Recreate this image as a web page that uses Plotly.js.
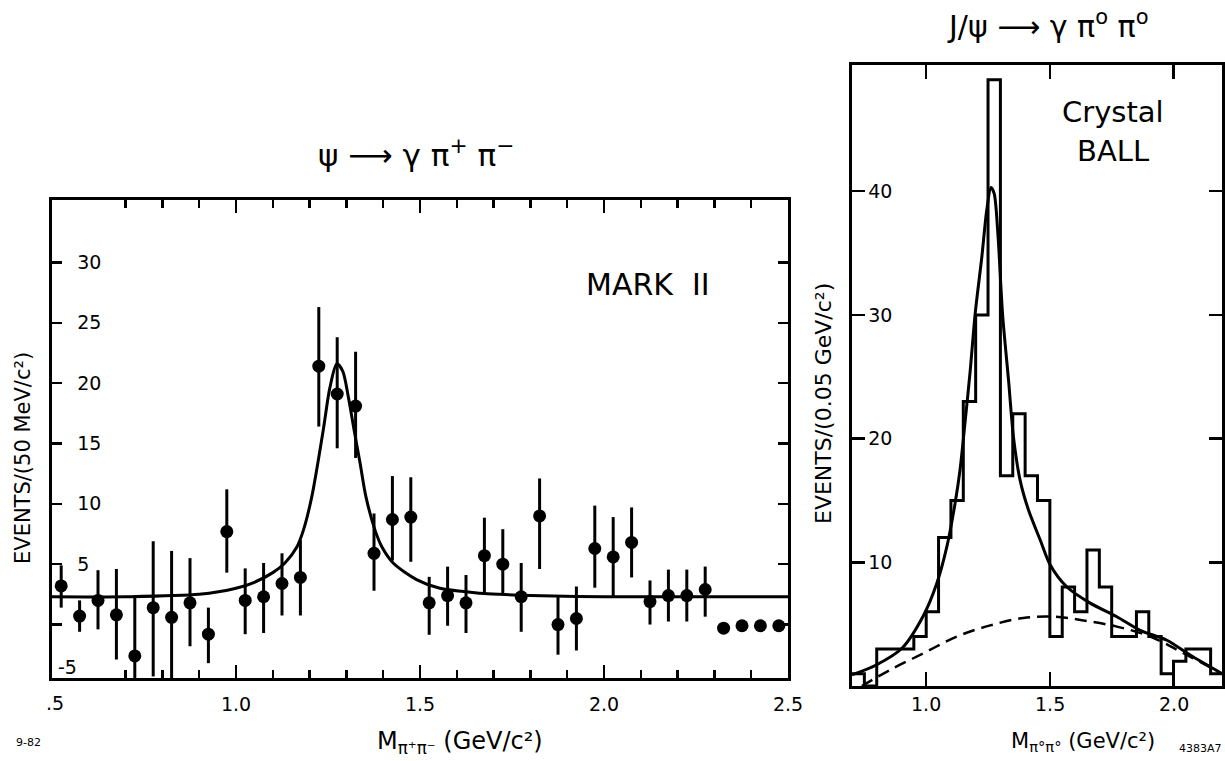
<!DOCTYPE html>
<html><head><meta charset="utf-8">
<script src="https://cdn.plot.ly/plotly-3.0.1.min.js"></script>
<style>html,body{margin:0;padding:0;background:#fff;}#chart{width:1225px;height:761px;}</style>
</head><body><div id="chart"></div>
<script>
// ---- Left panel: MARK II, psi -> gamma pi+ pi- ----
const markMass = [0.525,0.575,0.625,0.675,0.725,0.775,0.825,0.875,0.925,0.975,
                  1.025,1.075,1.125,1.175,1.225,1.275,1.325,1.375,1.425,1.475,
                  1.525,1.575,1.625,1.675,1.725,1.775,1.825,1.875,1.925,1.975,
                  2.025,2.075,2.125,2.175,2.225,2.275,2.325,2.375,2.425,2.475];
const markEvents = [3.2,0.7,2.0,0.8,-2.6,1.4,0.6,1.8,-0.8,7.7,
                    2.0,2.3,3.4,3.9,21.4,19.1,18.1,5.9,8.7,8.9,
                    1.8,2.4,1.8,5.7,5.0,2.3,9.0,0.0,0.5,6.3,
                    5.6,6.8,1.9,2.4,2.4,2.9,-0.3,-0.1,-0.1,-0.1];
const markErrUp = [1.7,1.3,2.5,3.8,4.8,5.5,5.5,3.7,2.2,3.5,
                   2.65,2.8,2.5,3.1,4.9,4.7,4.5,3.3,3.6,3.3,
                   2.15,2.4,2.3,3.15,2.9,2.8,3.1,2.3,2.65,3.55,
                   3.3,2.9,1.75,2.15,2.15,1.9,0,0,0,0];
const markErrDown = [1.8,1.3,2.4,3.7,4.8,5.7,5.5,3.6,2.4,3.4,
                     2.8,3.0,2.65,3.15,5.0,4.5,4.3,3.1,3.4,3.7,
                     2.65,2.5,2.5,3.1,2.4,2.9,4.4,2.5,2.65,3.25,
                     3.3,2.9,1.9,2.15,2.15,2.25,0,0,0,0];
const markFitMass = [0.5,0.7,0.9,1.0,1.05,1.1,1.133,1.165,1.183,1.206,1.237,1.255,1.274,1.29,
                     1.305,1.321,1.337,1.353,1.378,1.397,1.427,1.492,1.554,1.663,1.717,1.8,2.0,2.5];
const markFitEvents = [2.3,2.3,2.5,3.0,3.5,4.3,5.1,6.4,7.8,10.6,16.1,19.6,21.6,21.0,
                       18.9,16.1,13.4,10.6,7.8,6.4,5.1,3.7,3.0,2.6,2.5,2.4,2.3,2.3];
const markXTicks = [0.5,1.0,1.5,2.0,2.5];
const markXTickText = ['.5','1.0','1.5','2.0','2.5'];
const markYTicks = [0,5,10,15,20,25,30];
const markYTickText = ['','5','10','15','20','25','30'];
const markYBottomLabel = '-5';

// ---- Right panel: Crystal Ball, J/psi -> gamma pi0 pi0 ----
const cbBinLow = [0.70,0.75,0.80,0.85,0.90,0.95,1.00,1.05,1.10,1.15,
                  1.20,1.25,1.30,1.35,1.40,1.45,1.50,1.55,1.60,1.65,
                  1.70,1.75,1.80,1.85,1.90,1.95,2.00,2.05,2.10,2.15];
const cbCounts = [1,0,3,3,3,4,6,12,15,23,
                  30,49,17,22,17,15,4,8,6,11,
                  8,4,4,6,4,1,2,3,3,1];
const cbBinWidth = 0.05;
const cbFitMass = [0.70,0.798,0.902,0.989,1.043,1.084,1.117,1.137,1.158,1.178,1.198,1.225,1.245,
                   1.262,1.275,1.29,1.309,1.333,1.353,1.380,1.414,1.461,1.501,1.569,1.663,1.771,
                   1.865,1.973,2.067,2.196];
const cbFitEvents = [0.9,1.7,3.05,5.7,8.3,11.3,14.8,17.5,21.5,25.5,30.1,34.7,38.5,
                     40.3,39.8,36.5,30.0,24.7,20.1,16.6,14.2,11.8,9.8,8.0,6.7,5.6,
                     4.5,3.7,2.5,1.0];
const cbBkgMass = [0.74,0.854,0.989,1.124,1.259,1.393,1.514,1.636,1.771,1.906,2.040,2.196];
const cbBkgEvents = [0.0,1.3,2.65,4.0,4.9,5.5,5.6,5.3,4.8,4.0,2.65,1.0];
const cbXTicks = [1.0,1.5,2.0];
const cbXTickText = ['1.0','1.5','2.0'];
const cbYTicks = [10,20,30,40];

const FONT = 'DejaVu Sans, Arial, sans-serif';
const W = 1225, H = 761;
const px = v => v / W;
const py = v => 1 - v / H;

const stepX = cbBinLow.concat([cbBinLow[cbBinLow.length-1] + cbBinWidth]);
const stepY = cbCounts.concat([cbCounts[cbCounts.length-1]]);

const traces = [
  {x: markFitMass, y: markFitEvents, xaxis:'x', yaxis:'y', mode:'lines',
   line:{color:'#000', width:3, shape:'spline', smoothing:0.8}, hoverinfo:'skip'},
  {x: markMass, y: markEvents, xaxis:'x', yaxis:'y', mode:'markers',
   marker:{color:'#000', size:13},
   error_y:{type:'data', symmetric:false, array: markErrUp, arrayminus: markErrDown,
            color:'#000', thickness:3, width:0}},
  {x: stepX, y: stepY, xaxis:'x2', yaxis:'y2', mode:'lines',
   line:{color:'#000', width:3, shape:'hv'}},
  {x: cbFitMass, y: cbFitEvents, xaxis:'x2', yaxis:'y2', mode:'lines',
   line:{color:'#000', width:3, shape:'spline', smoothing:0.8}},
  {x: cbBkgMass, y: cbBkgEvents, xaxis:'x2', yaxis:'y2', mode:'lines',
   line:{color:'#000', width:2.5, dash:'12px,7px', shape:'spline'}}
];

const axisCommon = {showgrid:false, zeroline:false, showline:true, linecolor:'#000', linewidth:3,
                    mirror:'allticks', ticks:'inside', tickcolor:'#000', tickwidth:2.5,
                    tickfont:{family:FONT, size:19, color:'#000'}, fixedrange:true};

// x tick text of the left panel: the first label is drawn as an annotation (corner label)
const markXTickShown = markXTickText.map((t, i) => i === 0 ? '' : t);

function ann(text, x, y, size, extra) {
  return Object.assign({text:text, x:x, y:y, xref:'paper', yref:'paper', showarrow:false,
    xanchor:'center', yanchor:'middle', font:{family:FONT, size:size, color:'#000'}}, extra || {});
}

// right-panel x tick labels placed on the x2 scale
const cbXLabelAnns = cbXTicks.map((v, i) => ann(cbXTickText[i], v, py(704), 19, {xref:'x2'}));

const layout = {
  width: W, height: H, showlegend:false,
  paper_bgcolor:'#fff', plot_bgcolor:'#fff',
  margin:{l:0, r:0, t:0, b:0},
  xaxis: Object.assign({}, axisCommon, {
    domain:[px(52), px(788)], range:[0.5, 2.5], anchor:'y',
    tickmode:'array', tickvals: markXTicks, ticktext: markXTickShown, ticklen:13,
    ticklabelstandoff: 7,
    minor:{dtick:0.1, tick0:0.5, ticks:'inside', ticklen:8, tickwidth:2.5, tickcolor:'#000'}
  }),
  yaxis: Object.assign({}, axisCommon, {
    domain:[py(678), py(200)], range:[-4.43, 35.17], anchor:'x',
    tickmode:'array', tickvals: markYTicks, ticktext: markYTickText, ticklen:10,
    ticklabelposition:'inside', ticklabelstandoff: 16
  }),
  xaxis2: Object.assign({}, axisCommon, {
    domain:[px(852), px(1222)], range:[0.70, 2.196], anchor:'y2',
    tickmode:'array', tickvals: cbXTicks, ticktext: cbXTicks.map(() => ''), ticklen:14
  }),
  yaxis2: Object.assign({}, axisCommon, {
    domain:[py(686), py(65)], range:[0, 50.2], anchor:'x2',
    tickmode:'array', tickvals: cbYTicks, ticklen:13,
    ticklabelposition:'inside', ticklabelstandoff: 4
  }),
  annotations: [
    ann('ψ ⟶ γ π<sup>+</sup> π<sup>−</sup>', px(416), py(153), 31),
    ann('J/ψ ⟶ γ π<sup>o</sup> π<sup>o</sup>', px(1048), py(24), 30),
    ann('MARK  II', px(648), py(285), 30),
    ann('Crystal', px(1113), py(112), 29),
    ann('BALL', px(1113), py(151), 29),
    ann('M<sub>π⁺π⁻</sub> (GeV/c²)', px(460), py(742), 24),
    ann('M<sub>π°π°</sub> (GeV/c²)', px(1083), py(742), 21),
    ann('EVENTS/(50 MeV/c²)', px(23), py(458), 21, {textangle:-90}),
    ann('EVENTS/(0.05 GeV/c²)', px(823), py(403), 22, {textangle:-90}),
    ann(markYBottomLabel, px(67), py(667), 19),
    ann(markXTickText[0], px(55), py(703), 19),
    ann('9-82', px(28), py(742), 11),
    ann('4383A7', px(1200), py(748), 11)
  ].concat(cbXLabelAnns)
};

Plotly.newPlot('chart', traces, layout, {staticPlot:true, displayModeBar:false});
</script>
</body></html>
